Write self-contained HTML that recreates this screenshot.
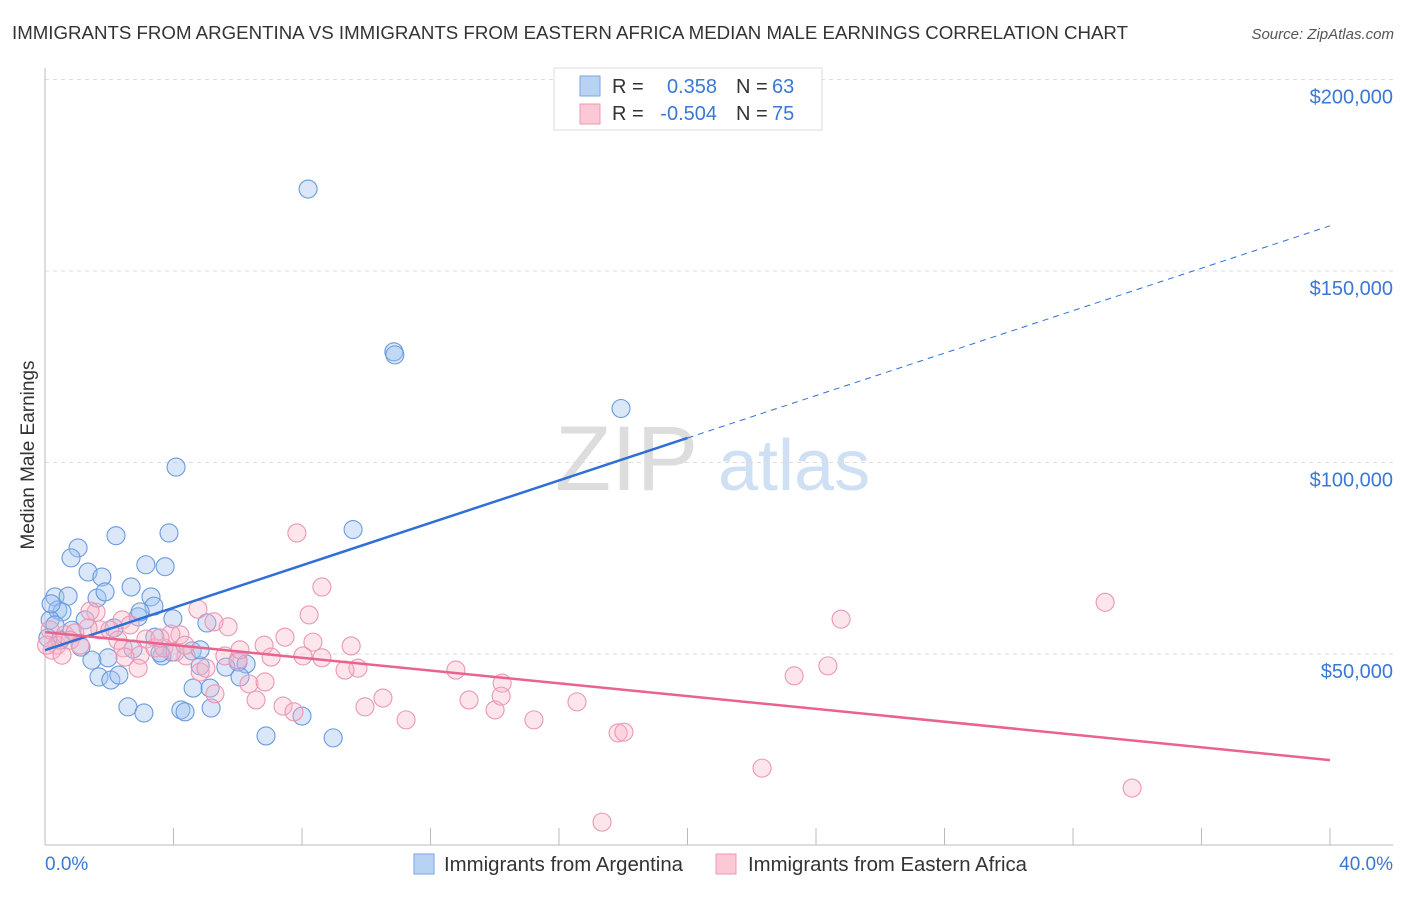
<!DOCTYPE html>
<html><head><meta charset="utf-8"><style>
body{margin:0;background:#fff;font-family:"Liberation Sans",sans-serif}
svg text{font-family:"Liberation Sans",sans-serif}
</style></head><body>
<svg id="chart" width="1406" height="892" xmlns="http://www.w3.org/2000/svg">
<text x="12" y="39" font-size="18" fill="#333" textLength="1116" lengthAdjust="spacingAndGlyphs">IMMIGRANTS FROM ARGENTINA VS IMMIGRANTS FROM EASTERN AFRICA MEDIAN MALE EARNINGS CORRELATION CHART</text>
<text x="1394" y="39" font-size="15" fill="#555" text-anchor="end" font-style="italic">Source: ZipAtlas.com</text>
<g>
<text x="555" y="490" font-size="92" fill="#ddd" font-family="Liberation Serif,serif">ZIP</text>
<text x="718" y="490" font-size="72" fill="#cfe0f4">atlas</text>
</g>
<g id="grid"></g>
<g id="axes"></g>
<g id="pts"></g>
<g id="lines"></g>
<text transform="translate(34,455) rotate(-90)" font-size="19" fill="#333" text-anchor="middle">Median Male Earnings</text>
<text x="45" y="870" font-size="19" fill="#3a78d4">0.0%</text>
<text x="1393" y="870" font-size="19" fill="#3a78d4" text-anchor="end">40.0%</text>
<g>
<rect x="554" y="68" width="268" height="62" fill="#fff" stroke="#ddd"/>
<rect x="580" y="76" width="20" height="20" fill="#b8d2f4" stroke="#7aa6e0"/>
<rect x="580" y="104" width="20" height="20" fill="#fbc8d6" stroke="#ec9ab4"/>
<text x="612" y="93" font-size="20" fill="#333">R =</text>
<text x="717" y="93" font-size="20" fill="#3a78d4" text-anchor="end">0.358</text>
<text x="736" y="93" font-size="20" fill="#333">N =</text>
<text x="772" y="93" font-size="20" fill="#3a78d4">63</text>
<text x="612" y="120" font-size="20" fill="#333">R =</text>
<text x="717" y="120" font-size="20" fill="#3a78d4" text-anchor="end">-0.504</text>
<text x="736" y="120" font-size="20" fill="#333">N =</text>
<text x="772" y="120" font-size="20" fill="#3a78d4">75</text>
</g>
<g>
<rect x="414" y="854" width="20" height="20" fill="#b8d2f4" stroke="#7aa6e0"/>
<text x="444" y="871" font-size="20" fill="#333" textLength="239" lengthAdjust="spacingAndGlyphs">Immigrants from Argentina</text>
</g>
<g>
<rect x="716" y="854" width="20" height="20" fill="#fbc8d6" stroke="#ec9ab4"/>
<text x="748" y="871" font-size="20" fill="#333" textLength="279" lengthAdjust="spacingAndGlyphs">Immigrants from Eastern Africa</text>
</g>
</svg>
<script>
const yTicks=[50000,100000,150000,200000];
const yTickLabels=["$50,000","$100,000","$150,000","$200,000"];
const xTicks=[0,4,8,12,16,20,24,28,32,36,40];
const blueX=[8.19,10.86,10.89,17.93,4.08,9.59,3.86,2.21,1.03,0.81,3.14,3.74,1.34,1.77,2.68,0.31,0.72,3.30,1.62,3.39,0.40,0.53,1.87,2.90,3.98,5.04,0.16,1.25,2.15,3.42,2.74,4.58,3.95,3.64,1.12,1.96,6.01,6.26,4.83,5.63,6.07,1.68,2.05,2.30,4.61,5.14,2.58,3.08,4.23,4.36,5.17,6.88,8.00,8.97,3.58,0.19,0.31,0.09,0.47,0.84,1.46,2.96,4.83];
const blueY=[171.4,128.9,128.1,114.1,98.8,82.5,81.6,80.9,77.7,75.1,73.3,72.8,71.4,70.1,67.5,64.9,65.1,64.9,64.6,62.5,61.5,61.0,66.2,59.7,59.2,58.1,58.9,58.9,56.8,54.4,51.3,50.8,50.5,49.5,51.8,49.0,47.9,47.4,46.9,46.6,44.0,44.0,43.2,44.5,41.1,41.1,36.2,34.6,35.4,34.9,35.9,28.6,33.8,28.1,50.3,63.1,57.6,54.2,53.6,56.2,48.4,61.0,51.1];
const pinkX=[7.84,8.62,33.00,24.78,4.76,8.22,1.59,1.40,2.40,5.70,5.26,4.20,3.92,3.14,7.47,6.82,8.34,9.53,0.37,0.16,0.62,0.93,1.71,2.02,1.34,2.65,2.27,2.96,3.42,3.70,4.39,4.05,5.60,6.01,7.04,8.03,8.62,9.74,12.79,14.23,24.37,23.32,2.43,4.83,5.01,2.90,6.35,6.85,5.29,6.57,7.41,7.75,10.52,9.96,13.20,14.01,14.20,11.24,15.22,16.56,17.84,18.02,22.32,33.84,17.34,2.49,3.58,4.36,0.22,0.53,0.05,0.78,1.09,9.34,6.07];
const pinkY=[81.6,67.5,63.5,59.1,61.7,60.2,60.9,61.2,58.9,57.1,58.4,55.0,55.2,53.9,54.4,52.3,53.1,52.1,52.3,56.3,55.0,55.5,56.3,56.3,56.8,57.6,53.6,49.7,51.6,51.6,49.5,50.5,49.5,48.4,49.2,49.5,49.0,46.3,45.8,42.4,46.9,44.3,51.6,45.3,46.3,46.3,42.2,42.7,39.6,38.0,36.4,34.9,38.5,36.2,38.0,35.4,39.0,32.8,32.8,37.5,29.4,29.6,20.2,15.0,6.1,49.2,54.2,52.3,51.0,49.7,52.3,53.6,52.3,45.8,51.1];
const blueTrend=[51.0,161.8];
const pinkTrend=[55.7,22.3];
const X=v=>45+v/40*1285;
const Y=v=>845.5-v/50000*191.5;
const YK=v=>Y(v*1000);
const NS="http://www.w3.org/2000/svg";
function mk(tag,attrs,parent){const e=document.createElementNS(NS,tag);for(const k in attrs)e.setAttribute(k,attrs[k]);parent.appendChild(e);return e;}
const grid=document.getElementById('grid'),axes=document.getElementById('axes'),pts=document.getElementById('pts'),lines=document.getElementById('lines');
yTicks.forEach((t,i)=>{
  const l=mk('line',{x1:45,x2:1393,y1:Y(t),y2:Y(t),stroke:'#ddd','stroke-dasharray':'4,4'},grid);
  
  
  const tx=mk('text',{x:1393,y:Y(t)+24,'font-size':20,fill:'#3a78d4','text-anchor':'end'},grid);
  tx.textContent=yTickLabels[i];
  
  
});
mk('line',{x1:45,x2:45,y1:68,y2:845,stroke:'#bbb'},axes);
mk('line',{x1:45,x2:1393,y1:845,y2:845,stroke:'#bbb'},axes);
xTicks.forEach(t=>{
  const l=mk('line',{x1:X(t),x2:X(t),y1:828,y2:845,stroke:'#bbb'},axes);
  
  
});
function drawPts(xs,ys,fill,stroke,name){
  xs.forEach((x,i)=>{
    const c=mk('circle',{cx:X(x),cy:YK(ys[i]),r:9,fill:fill,stroke:stroke,'stroke-width':1.1},pts);
    
    
  });
}
drawPts(blueX,blueY,'rgba(160,196,240,0.4)','#6a9ade','argentina-point');
drawPts(pinkX,pinkY,'rgba(248,180,200,0.35)','#eb97b2','eastern-africa-point');
const bAt=x=>blueTrend[0]+(blueTrend[1]-blueTrend[0])*x/40;
let bl=mk('line',{x1:X(0),y1:YK(bAt(0)),x2:X(20),y2:YK(bAt(20)),stroke:'#2f6fd6','stroke-width':2.5},lines);


let bd=mk('line',{x1:X(20),y1:YK(bAt(20)),x2:X(40),y2:YK(bAt(40)),stroke:'#2f6fd6','stroke-width':1,'stroke-dasharray':'6,5'},lines);


let pl=mk('line',{x1:X(0),y1:YK(pinkTrend[0]),x2:X(40),y2:YK(pinkTrend[1]),stroke:'#e8638e','stroke-width':2.5},lines);


</script>
</body></html>
